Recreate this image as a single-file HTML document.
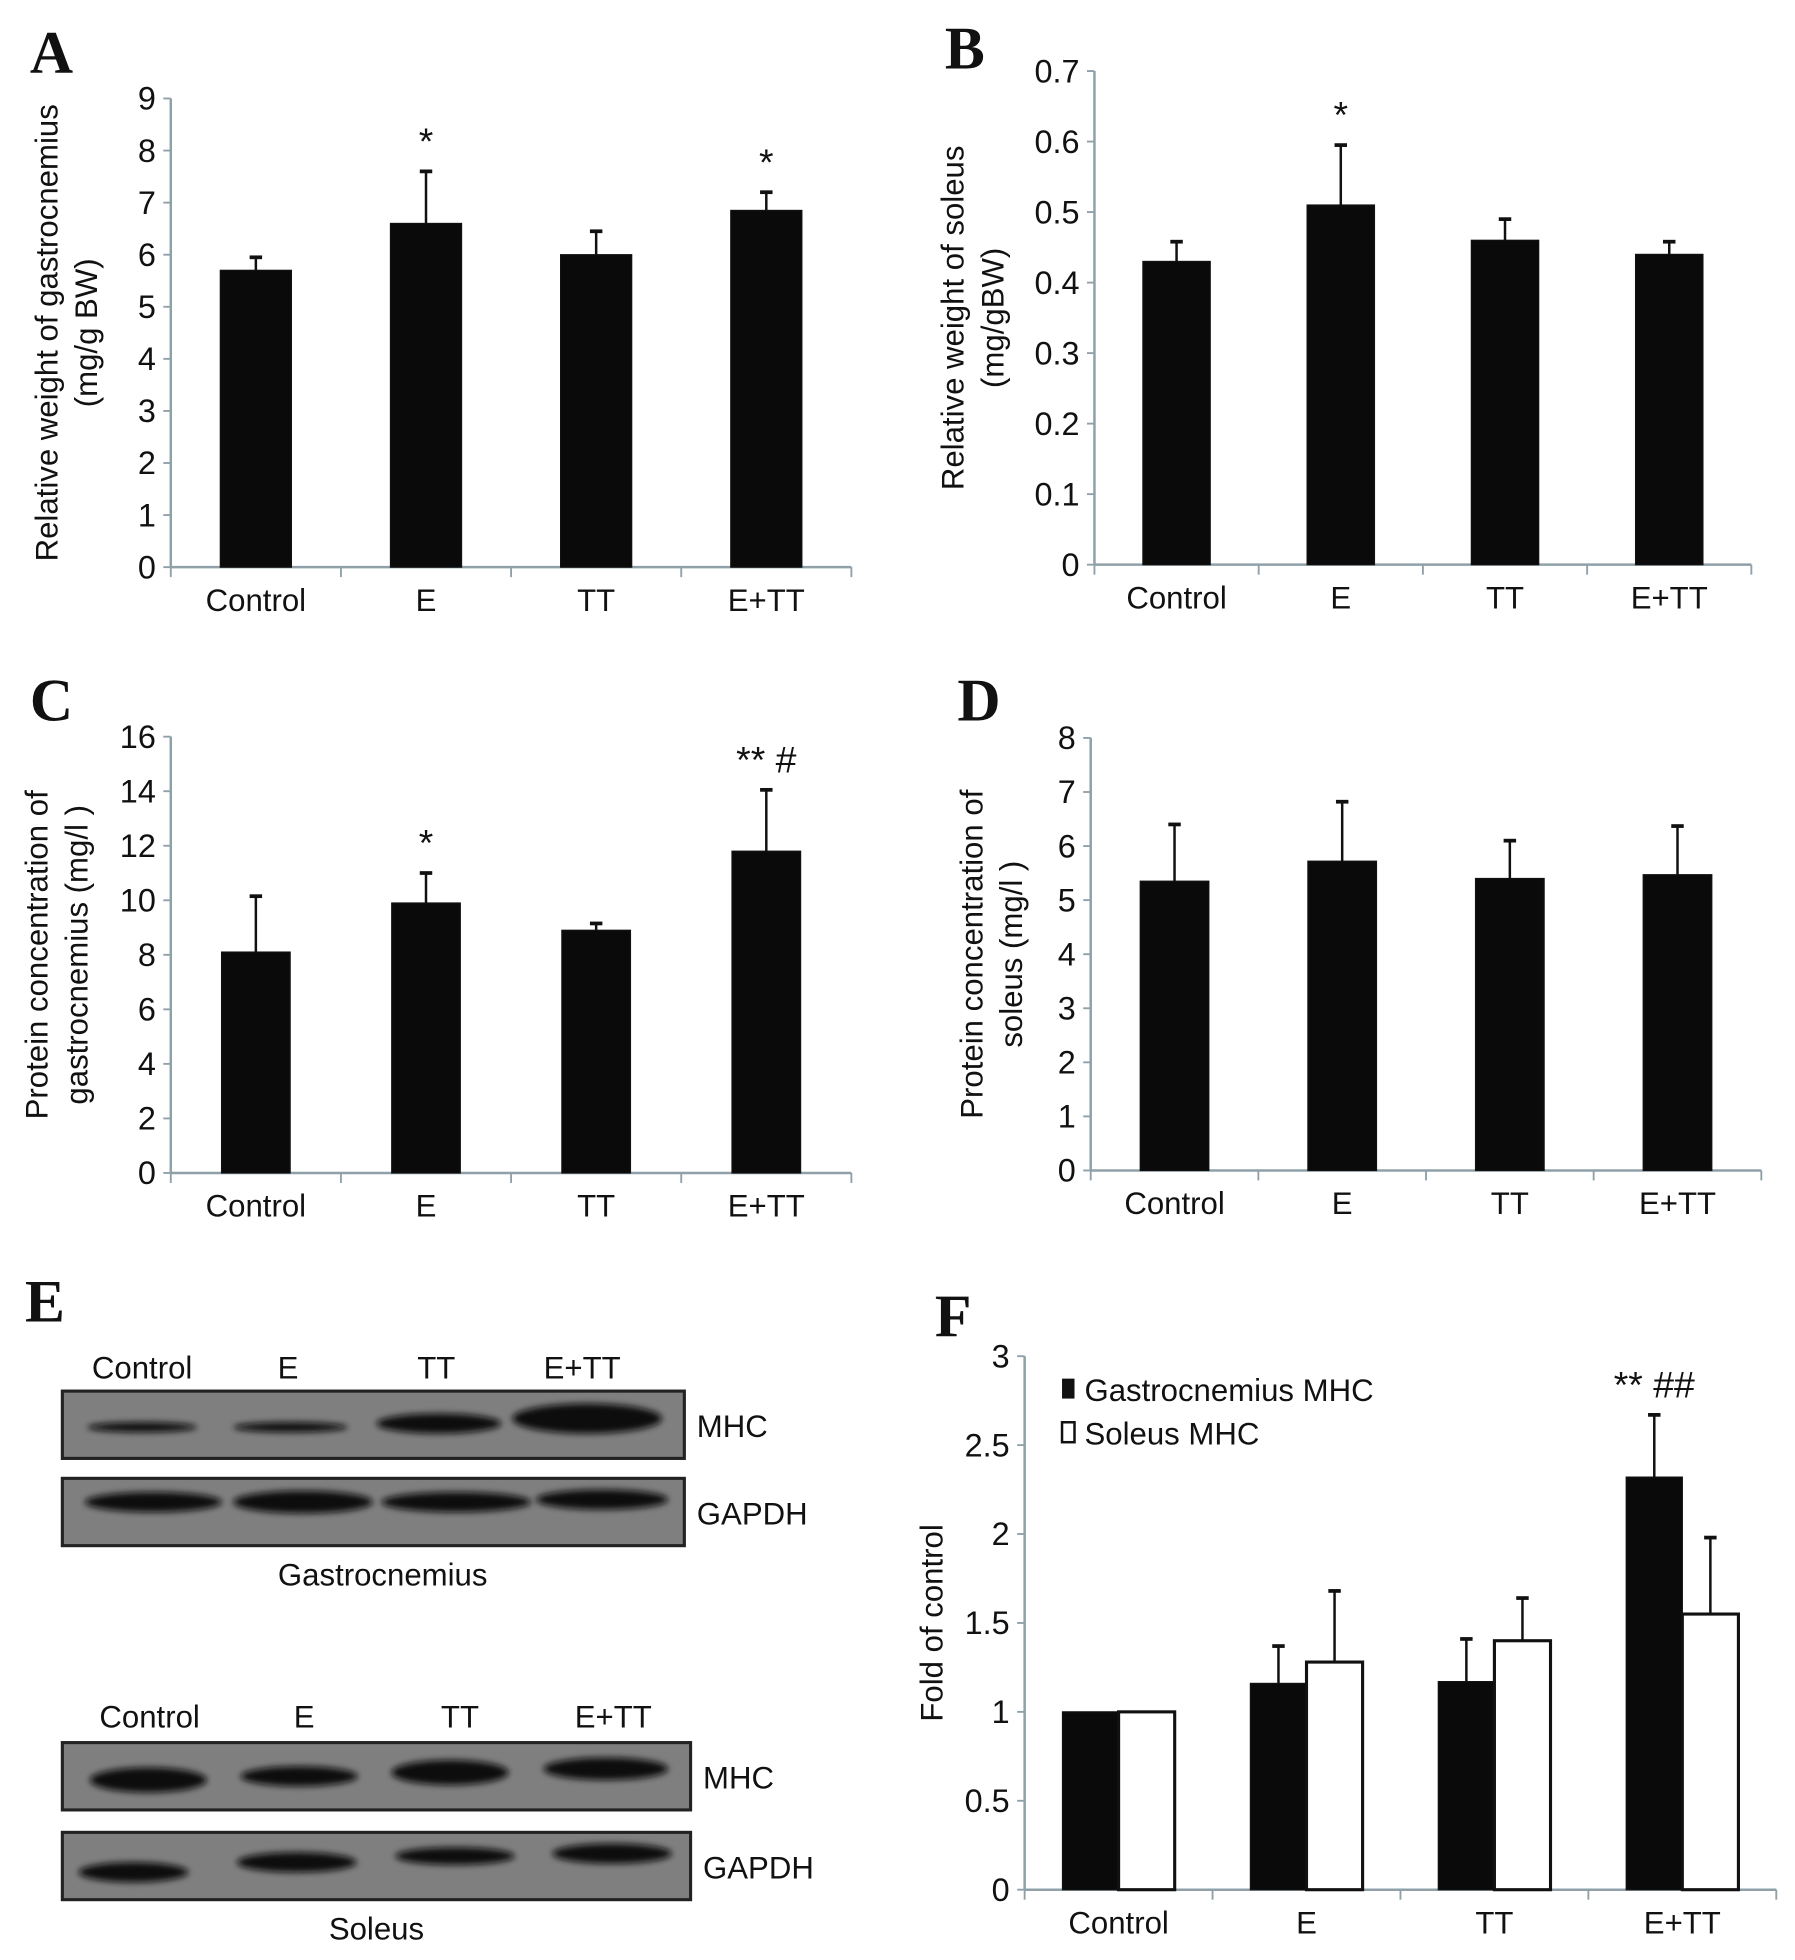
<!DOCTYPE html>
<html><head><meta charset="utf-8"><style>
html,body{margin:0;padding:0;background:#fff;}
svg{display:block;}
text{font-family:"Liberation Sans",sans-serif;fill:#111;}
.letter{font-family:"Liberation Serif",serif;font-weight:bold;font-size:48px;}
</style></head><body>
<svg id="fig" width="1795" height="1960" viewBox="0 0 1440 1572.4" xmlns="http://www.w3.org/2000/svg">
<defs><filter id="blur" x="-30%" y="-150%" width="160%" height="400%"><feGaussianBlur stdDeviation="2.5"/></filter></defs>
<g id="root"></g>
</svg>
<script>
const categories = ["Control","E","TT","E+TT"];
const aValues = [5.7, 6.6, 6.0, 6.85];
const aErrors = [0.25, 1.0, 0.45, 0.35];
const aTicks = [0,1,2,3,4,5,6,7,8,9];
const aMarks = ["","*","","*"];
const bValues = [0.43, 0.51, 0.46, 0.44];
const bErrors = [0.028, 0.085, 0.03, 0.018];
const bTicks = [0,0.1,0.2,0.3,0.4,0.5,0.6,0.7];
const bMarks = ["","*","",""];
const cValues = [8.1, 9.9, 8.9, 11.8];
const cErrors = [2.05, 1.1, 0.25, 2.25];
const cTicks = [0,2,4,6,8,10,12,14,16];
const cMarks = ["","*","","** #"];
const dValues = [5.35, 5.72, 5.4, 5.47];
const dErrors = [1.05, 1.1, 0.7, 0.9];
const dTicks = [0,1,2,3,4,5,6,7,8];
const fGastro = [1.0, 1.16, 1.17, 2.32];
const fGastroErr = [0, 0.21, 0.24, 0.35];
const fSoleus = [1.0, 1.28, 1.4, 1.55];
const fSoleusErr = [0, 0.4, 0.24, 0.43];
const fTicks = [0,0.5,1,1.5,2,2.5,3];
const fTickLabels = ["0","0.5","1","1.5","2","2.5","3"];
const fMarks = ["","","","** ##"];

const NS="http://www.w3.org/2000/svg";
const root=document.getElementById('root');
function el(tag,attrs,parent,txt){const e=document.createElementNS(NS,tag);for(const k in attrs)e.setAttribute(k,attrs[k]);if(txt!==undefined)e.textContent=txt;(parent||root).appendChild(e);return e;}

function chart(o){
  const g=el('g',{});
  
  
  const ymax=o.ticks[o.ticks.length-1];
  const yS=v=>o.y0-(v/ymax)*(o.y0-o.yTop);
  const step=(o.x1-o.x0)/categories.length;
  const xC=i=>o.x0+step*(i+0.5);
  const ax='#8fa0a8';
  el('line',{x1:o.x0,y1:o.yTop,x2:o.x0,y2:o.y0,stroke:ax,'stroke-width':2},g);
  el('line',{x1:o.x0,y1:o.y0,x2:o.x1,y2:o.y0,stroke:ax,'stroke-width':2},g);
  o.ticks.forEach((t,i)=>{
    const y=yS(t);
    el('line',{x1:o.x0-6,y1:y,x2:o.x0,y2:y,stroke:ax,'stroke-width':1.5},g);
    const tl=el('text',{x:o.x0-12,y:y+9,'text-anchor':'end','font-size':26},g,o.tickLabels?o.tickLabels[i]:String(t));
    
    
  });
  for(let i=0;i<=categories.length;i++){const x=o.x0+step*i;el('line',{x1:x,y1:o.y0,x2:x,y2:o.y0+8,stroke:ax,'stroke-width':1.5},g);}
  categories.forEach((c,i)=>{
    const t=el('text',{x:xC(i),y:o.y0+35,'text-anchor':'middle','font-size':25},g,c);
    
    
  });
  o.series.forEach((s,si)=>{
    s.values.forEach((v,i)=>{
      const bx=o.series.length===1?xC(i)-o.bw/2:xC(i)-o.bw+si*o.bw;
      const top=yS(v);
      const cx=bx+o.bw/2;
      const e=s.errors[i];
      if(e>0){
        const ey=yS(v+e);
        el('line',{x1:cx,y1:ey,x2:cx,y2:top,stroke:'#111','stroke-width':2},g);
        el('line',{x1:cx-5,y1:ey,x2:cx+5,y2:ey,stroke:'#111','stroke-width':3},g);
      }
      const r=el('rect',{x:bx,y:top,width:o.bw,height:o.y0-top,fill:s.fill,stroke:'#111','stroke-width':s.fill==='#fff'?2.5:1},g);
      
      
    });
  });
  if(o.marks){o.marks.forEach((m,i)=>{ if(!m)return;
    let maxTop=Infinity; let cx=xC(i);
    o.series.forEach((s,si)=>{const y=yS(s.values[i]+s.errors[i]);if(y<maxTop){maxTop=y;cx=o.series.length===1?xC(i):xC(i)-o.bw/2+si*o.bw;}});
    const t=el('text',{x:cx,y:maxTop-14,'text-anchor':'middle','font-size':30},g,m);
    
    
  });}
  const yl=el('g',{transform:'translate('+o.ylx+','+((o.yTop+o.y0)/2)+') rotate(-90)'},g);
  
  
  o.ylabel.forEach((l,k)=>el('text',{x:0,y:k*32,'text-anchor':'middle','font-size':25},yl,l));
  const L=el('text',{x:o.lx,y:o.ly,class:'letter'},g,o.letter);
  
  
  return g;
}

chart({name:'chart-a',x0:137,x1:683,y0:455,yTop:79,ticks:aTicks,bw:57,series:[{key:'a',values:aValues,errors:aErrors,fill:'#0a0a0a'}],marks:aMarks,ylabel:['Relative weight of gastrocnemius','(mg/g BW)'],ylx:46,letter:'A',lx:24,ly:58});
chart({name:'chart-b',x0:878,x1:1405,y0:453,yTop:57,ticks:bTicks,bw:54,series:[{key:'b',values:bValues,errors:bErrors,fill:'#0a0a0a'}],marks:bMarks,ylabel:['Relative weight of soleus','(mg/gBW)'],ylx:773,letter:'B',lx:758,ly:55});
chart({name:'chart-c',x0:137,x1:683,y0:941,yTop:591,ticks:cTicks,bw:55,series:[{key:'c',values:cValues,errors:cErrors,fill:'#0a0a0a'}],marks:cMarks,ylabel:['Protein concentration of','gastrocnemius (mg/l )'],ylx:38,letter:'C',lx:24,ly:578});
chart({name:'chart-d',x0:875,x1:1413,y0:939,yTop:592,ticks:dTicks,bw:55,series:[{key:'d',values:dValues,errors:dErrors,fill:'#0a0a0a'}],ylabel:['Protein concentration of','soleus (mg/l )'],ylx:788,letter:'D',lx:768,ly:578});
chart({name:'chart-f',x0:822,x1:1425,y0:1516,yTop:1088,ticks:fTicks,tickLabels:fTickLabels,bw:45,series:[{key:'gastrocnemius',values:fGastro,errors:fGastroErr,fill:'#0a0a0a'},{key:'soleus',values:fSoleus,errors:fSoleusErr,fill:'#fff'}],marks:fMarks,ylabel:['Fold of control'],ylx:756,letter:'F',lx:750,ly:1072});

// legend F
const lg=el('g',{});


el('rect',{x:852,y:1106,width:10,height:16,fill:'#111'},lg);
el('text',{x:870,y:1124,'font-size':25},lg,'Gastrocnemius MHC');
el('rect',{x:852,y:1141,width:10,height:16,fill:'#fff',stroke:'#111','stroke-width':2},lg);
el('text',{x:870,y:1159,'font-size':25},lg,'Soleus MHC');

// Panel E blots (bands: [cx, cy-offset, rx, ry])
const eg=el('g',{});


el('text',{x:20,y:1060,class:'letter'},eg,'E');
function blot(y, x1, bands, label, nm){
  const b=el('g',{},eg);
  
  
  el('rect',{x:50,y:y,width:x1-50,height:54,fill:'#7f7f7f',stroke:'#222','stroke-width':2.5},b);
  bands.forEach(bd=>el('ellipse',{cx:bd[0],cy:y+bd[1],rx:bd[2],ry:bd[3],fill:'#111',filter:'url(#blur)'},b));
  el('text',{x:x1+10,y:y+37,'font-size':25},b,label);
}
[['Control',114],['E',231],['TT',350],['E+TT',467]].forEach(l=>el('text',{x:l[1],y:1106,'text-anchor':'middle','font-size':25},eg,l[0]));
blot(1116,549,[[114,29,44,4],[233,29,46,4],[352,26,50,8],[471,22,60,12]],'MHC','blot-gastrocnemius-mhc');
blot(1186,549,[[123,19,55,8],[243,19,56,9],[366,19,60,8],[483,17,53,8]],'GAPDH','blot-gastrocnemius-gapdh');
el('text',{x:307,y:1272,'text-anchor':'middle','font-size':25},eg,'Gastrocnemius');
[['Control',120],['E',244],['TT',369],['E+TT',492]].forEach(l=>el('text',{x:l[1],y:1386,'text-anchor':'middle','font-size':25},eg,l[0]));
blot(1398,554,[[119,30,47,10],[240,27,47,8],[361,24,47,10],[486,21,50,9]],'MHC','blot-soleus-mhc');
blot(1470,554,[[107,32,44,8],[238,24,48,8],[365,19,48,7],[491,17,48,8]],'GAPDH','blot-soleus-gapdh');
el('text',{x:302,y:1556,'text-anchor':'middle','font-size':25},eg,'Soleus');
</script>
</body></html>
